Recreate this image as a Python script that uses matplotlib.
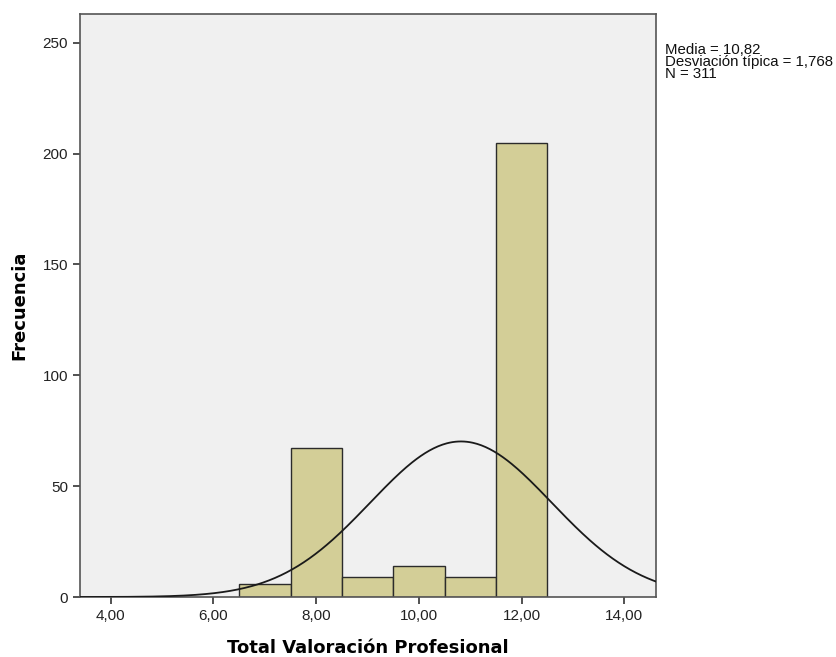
import numpy as np
import matplotlib
matplotlib.use("Agg")
import matplotlib.pyplot as plt
from matplotlib.ticker import FuncFormatter

plt.rcParams['font.family'] = ['Liberation Sans', 'DejaVu Sans']

# histogram bins (width 1) and counts
bin_centers = [7, 8, 9, 10, 11, 12]
counts = [6, 67, 9, 14, 9, 205]
media = 10.82
desv = 1.768
n_total = 311
bin_width = 1.0

x_ticks = [4, 6, 8, 10, 12, 14]
y_ticks = [0, 50, 100, 150, 200, 250]

fig = plt.figure(figsize=(8.37, 6.57), dpi=100)
ax = fig.add_axes([0.0956, 0.0913, 0.6882, 0.8874])
ax.set_facecolor('#F0F0F0')

ax.bar(bin_centers, counts, width=bin_width, color='#D3CE97',
       edgecolor='#2b2b2b', linewidth=1.0, zorder=2)

# normal curve scaled to counts
xs = np.linspace(3.4, 14.62, 400)
ys = n_total * bin_width / (desv * np.sqrt(2 * np.pi)) * np.exp(-0.5 * ((xs - media) / desv) ** 2)
ax.plot(xs, ys, color='#1a1a1a', linewidth=1.3, zorder=3)

ax.set_xlim(3.4, 14.62)
ax.set_ylim(0, 263)
ax.set_xticks(x_ticks)
ax.set_yticks(y_ticks)
ax.xaxis.set_major_formatter(FuncFormatter(lambda v, p: "{:.2f}".format(v).replace('.', ',')))
ax.tick_params(direction='out', length=5, width=1.2, color='#333333', labelsize=11, labelcolor='#222222')

for s in ax.spines.values():
    s.set_color('#555555')
    s.set_linewidth(1.2)

ax.set_xlabel("Total Valoración Profesional", fontsize=13, fontweight='bold',
              family='DejaVu Sans', labelpad=12)
ax.set_ylabel("Frecuencia", fontsize=13, fontweight='bold',
              family='DejaVu Sans', labelpad=10)

fig.text(0.7945, 0.935, "Media = 10,82\nDesviación típica = 1,768\nN = 311",
         fontsize=10.8, va='top', ha='left', linespacing=0.85, color='#111111')

fig.savefig("out.png", dpi=100, facecolor='white')
